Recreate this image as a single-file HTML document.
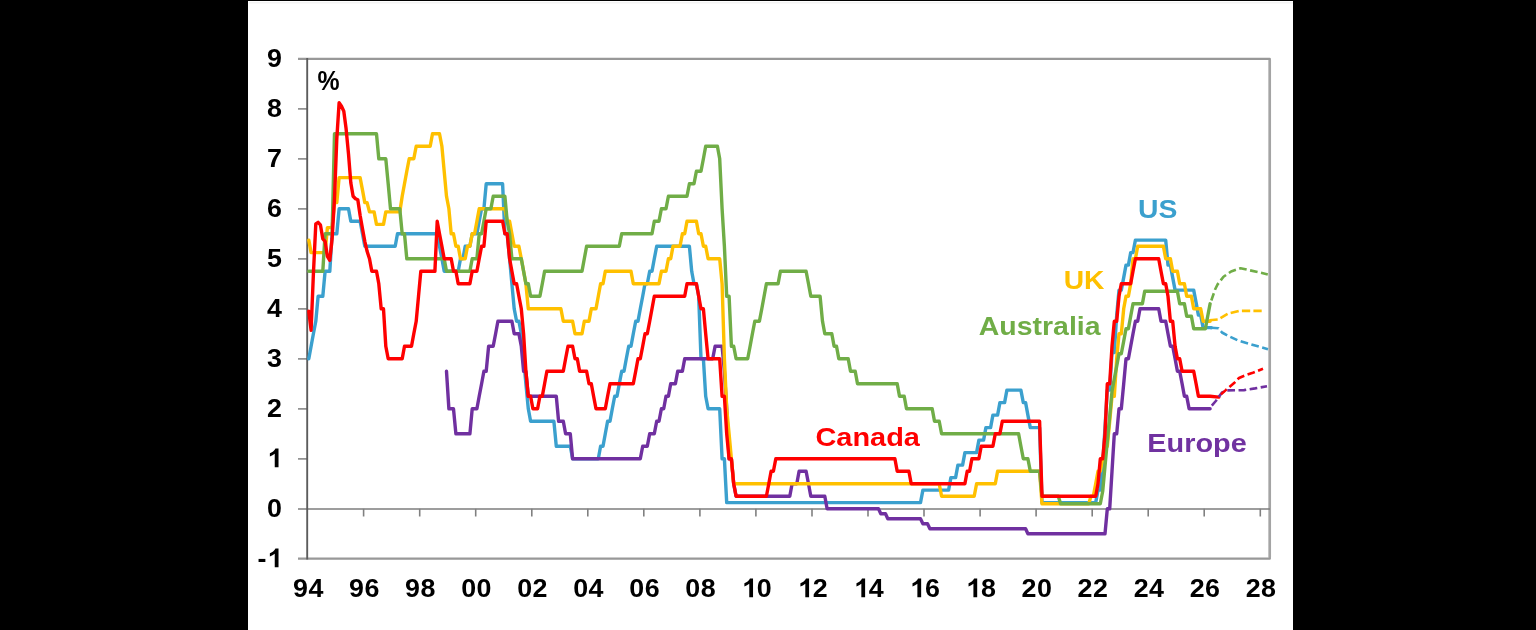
<!DOCTYPE html>
<html><head><meta charset="utf-8"><title>Policy rates</title>
<style>
html,body{margin:0;padding:0;background:#000;}
body{width:1536px;height:630px;overflow:hidden;position:relative;font-family:"Liberation Sans",sans-serif;}
</style></head><body>
<svg width="1536" height="630" viewBox="0 0 1536 630" style="position:absolute;left:0;top:0">
<rect x="0" y="0" width="1536" height="630" fill="#000"/>
<rect x="248" y="1" width="1045" height="629" fill="#fff"/>
<rect x="249" y="2" width="1044" height="1.5" fill="#f3f3f3"/>
<defs><filter id="soft" x="-2%" y="-2%" width="104%" height="104%"><feGaussianBlur stdDeviation="0.45"/></filter></defs>
<g fill="none">
<path d="M298,58.9 H1269.8 V558.7 H298" stroke="#989898" stroke-width="2.2" stroke-linejoin="round"/>
<path d="M1269.8,60 V557.6" stroke="#a4a4a4" stroke-width="2.5"/>
<path d="M298,509.0 H1269.9" stroke="#7c7c7c" stroke-width="1.3"/>
<path d="M298,458.9 H307.6" stroke="#808080" stroke-width="1.5"/>
<path d="M298,408.9 H307.6" stroke="#808080" stroke-width="1.5"/>
<path d="M298,358.9 H307.6" stroke="#808080" stroke-width="1.5"/>
<path d="M298,308.9 H307.6" stroke="#808080" stroke-width="1.5"/>
<path d="M298,258.9 H307.6" stroke="#808080" stroke-width="1.5"/>
<path d="M298,208.9 H307.6" stroke="#808080" stroke-width="1.5"/>
<path d="M298,158.9 H307.6" stroke="#808080" stroke-width="1.5"/>
<path d="M298,108.9 H307.6" stroke="#808080" stroke-width="1.5"/>
<path d="M363.6,508.8 V516.5" stroke="#808080" stroke-width="1.6"/>
<path d="M419.7,508.8 V516.5" stroke="#808080" stroke-width="1.6"/>
<path d="M475.7,508.8 V516.5" stroke="#808080" stroke-width="1.6"/>
<path d="M531.8,508.8 V516.5" stroke="#808080" stroke-width="1.6"/>
<path d="M587.8,508.8 V516.5" stroke="#808080" stroke-width="1.6"/>
<path d="M643.8,508.8 V516.5" stroke="#808080" stroke-width="1.6"/>
<path d="M699.9,508.8 V516.5" stroke="#808080" stroke-width="1.6"/>
<path d="M755.9,508.8 V516.5" stroke="#808080" stroke-width="1.6"/>
<path d="M812.0,508.8 V516.5" stroke="#808080" stroke-width="1.6"/>
<path d="M868.0,508.8 V516.5" stroke="#808080" stroke-width="1.6"/>
<path d="M924.0,508.8 V516.5" stroke="#808080" stroke-width="1.6"/>
<path d="M980.1,508.8 V516.5" stroke="#808080" stroke-width="1.6"/>
<path d="M1036.1,508.8 V516.5" stroke="#808080" stroke-width="1.6"/>
<path d="M1092.2,508.8 V516.5" stroke="#808080" stroke-width="1.6"/>
<path d="M1148.2,508.8 V516.5" stroke="#808080" stroke-width="1.6"/>
<path d="M1204.2,508.8 V516.5" stroke="#808080" stroke-width="1.6"/>
<path d="M1260.3,508.8 V516.5" stroke="#808080" stroke-width="1.6"/>
<path d="M307.2,58 V559.6" stroke="#5c5c5c" stroke-width="1.9"/>
</g>
<polyline points="308.8,358.8 311.1,346.3 313.4,333.8 315.8,321.3 318.1,296.3 320.4,296.3 322.8,296.3 325.1,271.3 327.4,271.3 329.8,271.3 332.1,233.8 334.5,233.8 336.8,233.8 339.1,208.8 341.5,208.8 343.8,208.8 346.1,208.8 348.5,208.8 350.8,221.3 353.1,221.3 355.5,221.3 357.8,221.3 360.1,221.3 362.5,233.8 364.8,246.3 367.1,246.3 369.5,246.3 371.8,246.3 374.1,246.3 376.5,246.3 378.8,246.3 381.2,246.3 383.5,246.3 385.8,246.3 388.2,246.3 390.5,246.3 392.8,246.3 395.2,246.3 397.5,233.8 399.8,233.8 402.2,233.8 404.5,233.8 406.8,233.8 409.2,233.8 411.5,233.8 413.8,233.8 416.2,233.8 418.5,233.8 420.8,233.8 423.2,233.8 425.5,233.8 427.9,233.8 430.2,233.8 432.5,233.8 434.9,233.8 437.2,233.8 439.5,246.3 441.9,258.8 444.2,271.3 446.5,271.3 448.9,271.3 451.2,271.3 453.5,271.3 455.9,271.3 458.2,271.3 460.5,258.8 462.9,258.8 465.2,246.3 467.5,246.3 469.9,246.3 472.2,233.8 474.6,233.8 476.9,233.8 479.2,221.3 481.6,208.8 483.9,208.8 486.2,183.8 488.6,183.8 490.9,183.8 493.2,183.8 495.6,183.8 497.9,183.8 500.2,183.8 502.6,183.8 504.9,233.8 507.2,233.8 509.6,258.8 511.9,283.8 514.2,308.8 516.6,321.3 518.9,321.3 521.3,333.8 523.6,358.8 525.9,383.8 528.3,408.8 530.6,421.3 532.9,421.3 535.3,421.3 537.6,421.3 539.9,421.3 542.3,421.3 544.6,421.3 546.9,421.3 549.3,421.3 551.6,421.3 553.9,421.3 556.3,446.3 558.6,446.3 560.9,446.3 563.3,446.3 565.6,446.3 568.0,446.3 570.3,446.3 572.6,458.8 575.0,458.8 577.3,458.8 579.6,458.8 582.0,458.8 584.3,458.8 586.6,458.8 589.0,458.8 591.3,458.8 593.6,458.8 596.0,458.8 598.3,458.8 600.6,446.3 603.0,446.3 605.3,433.8 607.6,421.3 610.0,421.3 612.3,408.8 614.7,396.3 617.0,396.3 619.3,383.8 621.7,371.3 624.0,371.3 626.3,358.8 628.7,346.3 631.0,346.3 633.3,333.8 635.7,321.3 638.0,321.3 640.3,308.8 642.7,296.3 645.0,283.8 647.3,283.8 649.7,271.3 652.0,271.3 654.3,258.8 656.7,246.3 659.0,246.3 661.4,246.3 663.7,246.3 666.0,246.3 668.4,246.3 670.7,246.3 673.0,246.3 675.4,246.3 677.7,246.3 680.0,246.3 682.4,246.3 684.7,246.3 687.0,246.3 689.4,246.3 691.7,271.3 694.0,283.8 696.4,283.8 698.7,296.3 701.0,358.8 703.4,358.8 705.7,396.3 708.1,408.8 710.4,408.8 712.7,408.8 715.1,408.8 717.4,408.8 719.7,408.8 722.1,458.8 724.4,458.8 726.7,502.6 729.1,502.6 731.4,502.6 733.7,502.6 736.1,502.6 738.4,502.6 740.7,502.6 743.1,502.6 745.4,502.6 747.7,502.6 750.1,502.6 752.4,502.6 754.8,502.6 757.1,502.6 759.4,502.6 761.8,502.6 764.1,502.6 766.4,502.6 768.8,502.6 771.1,502.6 773.4,502.6 775.8,502.6 778.1,502.6 780.4,502.6 782.8,502.6 785.1,502.6 787.4,502.6 789.8,502.6 792.1,502.6 794.4,502.6 796.8,502.6 799.1,502.6 801.5,502.6 803.8,502.6 806.1,502.6 808.5,502.6 810.8,502.6 813.1,502.6 815.5,502.6 817.8,502.6 820.1,502.6 822.5,502.6 824.8,502.6 827.1,502.6 829.5,502.6 831.8,502.6 834.1,502.6 836.5,502.6 838.8,502.6 841.1,502.6 843.5,502.6 845.8,502.6 848.2,502.6 850.5,502.6 852.8,502.6 855.2,502.6 857.5,502.6 859.8,502.6 862.2,502.6 864.5,502.6 866.8,502.6 869.2,502.6 871.5,502.6 873.8,502.6 876.2,502.6 878.5,502.6 880.8,502.6 883.2,502.6 885.5,502.6 887.8,502.6 890.2,502.6 892.5,502.6 894.9,502.6 897.2,502.6 899.5,502.6 901.9,502.6 904.2,502.6 906.5,502.6 908.9,502.6 911.2,502.6 913.5,502.6 915.9,502.6 918.2,502.6 920.5,502.6 922.9,490.1 925.2,490.1 927.5,490.1 929.9,490.1 932.2,490.1 934.5,490.1 936.9,490.1 939.2,490.1 941.6,490.1 943.9,490.1 946.2,490.1 948.6,490.1 950.9,477.6 953.2,477.6 955.6,477.6 957.9,465.1 960.2,465.1 962.6,465.1 964.9,452.6 967.2,452.6 969.6,452.6 971.9,452.6 974.2,452.6 976.6,452.6 978.9,440.1 981.2,440.1 983.6,440.1 985.9,427.6 988.3,427.6 990.6,427.6 992.9,415.1 995.3,415.1 997.6,415.1 999.9,402.6 1002.3,402.6 1004.6,402.6 1006.9,390.1 1009.3,390.1 1011.6,390.1 1013.9,390.1 1016.3,390.1 1018.6,390.1 1020.9,390.1 1023.3,402.6 1025.6,402.6 1027.9,415.1 1030.3,427.6 1032.6,427.6 1035.0,427.6 1037.3,427.6 1039.6,427.6 1042.0,502.6 1044.3,502.6 1046.6,502.6 1049.0,502.6 1051.3,502.6 1053.6,502.6 1056.0,502.6 1058.3,502.6 1060.6,502.6 1063.0,502.6 1065.3,502.6 1067.6,502.6 1070.0,502.6 1072.3,502.6 1074.6,502.6 1077.0,502.6 1079.3,502.6 1081.7,502.6 1084.0,502.6 1086.3,502.6 1088.7,502.6 1091.0,502.6 1093.3,502.6 1095.7,502.6 1098.0,490.1 1100.3,490.1 1102.7,465.1 1105.0,427.6 1107.3,390.1 1109.7,390.1 1112.0,352.6 1114.3,352.6 1116.7,315.1 1119.0,290.1 1121.3,290.1 1123.7,277.6 1126.0,265.1 1128.4,265.1 1130.7,252.6 1133.0,252.6 1135.4,240.1 1137.7,240.1 1140.0,240.1 1142.4,240.1 1144.7,240.1 1147.0,240.1 1149.4,240.1 1151.7,240.1 1154.0,240.1 1156.4,240.1 1158.7,240.1 1161.0,240.1 1163.4,240.1 1165.7,240.1 1168.0,265.1 1170.4,265.1 1172.7,277.6 1175.1,290.1 1177.4,290.1 1179.7,290.1 1182.1,290.1 1184.4,290.1 1186.7,290.1 1189.1,290.1 1191.4,290.1 1193.7,290.1 1196.1,302.6 1198.4,315.1 1200.7,315.1 1203.1,327.6 1205.4,327.6 1207.7,327.6 1210.1,327.6 1211.3,327.7" fill="none" stroke="#3BA0CE" stroke-width="3.4" stroke-linejoin="round" stroke-linecap="round"/>
<polyline points="446.5,371.3 448.9,408.8 451.2,408.8 453.5,408.8 455.9,433.8 458.2,433.8 460.5,433.8 462.9,433.8 465.2,433.8 467.5,433.8 469.9,433.8 472.2,408.8 474.6,408.8 476.9,408.8 479.2,396.3 481.6,383.8 483.9,371.3 486.2,371.3 488.6,346.3 490.9,346.3 493.2,346.3 495.6,333.8 497.9,321.3 500.2,321.3 502.6,321.3 504.9,321.3 507.2,321.3 509.6,321.3 511.9,321.3 514.2,333.8 516.6,333.8 518.9,333.8 521.3,346.3 523.6,371.3 525.9,371.3 528.3,396.3 530.6,396.3 532.9,396.3 535.3,396.3 537.6,396.3 539.9,396.3 542.3,396.3 544.6,396.3 546.9,396.3 549.3,396.3 551.6,396.3 553.9,396.3 556.3,396.3 558.6,421.3 560.9,421.3 563.3,421.3 565.6,433.8 568.0,433.8 570.3,433.8 572.6,458.8 575.0,458.8 577.3,458.8 579.6,458.8 582.0,458.8 584.3,458.8 586.6,458.8 589.0,458.8 591.3,458.8 593.6,458.8 596.0,458.8 598.3,458.8 600.6,458.8 603.0,458.8 605.3,458.8 607.6,458.8 610.0,458.8 612.3,458.8 614.7,458.8 617.0,458.8 619.3,458.8 621.7,458.8 624.0,458.8 626.3,458.8 628.7,458.8 631.0,458.8 633.3,458.8 635.7,458.8 638.0,458.8 640.3,458.8 642.7,446.3 645.0,446.3 647.3,446.3 649.7,433.8 652.0,433.8 654.3,433.8 656.7,421.3 659.0,421.3 661.4,408.8 663.7,408.8 666.0,396.3 668.4,396.3 670.7,383.8 673.0,383.8 675.4,383.8 677.7,371.3 680.0,371.3 682.4,371.3 684.7,358.8 687.0,358.8 689.4,358.8 691.7,358.8 694.0,358.8 696.4,358.8 698.7,358.8 701.0,358.8 703.4,358.8 705.7,358.8 708.1,358.8 710.4,358.8 712.7,358.8 715.1,346.3 717.4,346.3 719.7,346.3 722.1,346.3 724.4,371.3 726.7,408.8 729.1,458.8 731.4,458.8 733.7,483.8 736.1,496.3 738.4,496.3 740.7,496.3 743.1,496.3 745.4,496.3 747.7,496.3 750.1,496.3 752.4,496.3 754.8,496.3 757.1,496.3 759.4,496.3 761.8,496.3 764.1,496.3 766.4,496.3 768.8,496.3 771.1,496.3 773.4,496.3 775.8,496.3 778.1,496.3 780.4,496.3 782.8,496.3 785.1,496.3 787.4,496.3 789.8,496.3 792.1,483.8 794.4,483.8 796.8,483.8 799.1,471.3 801.5,471.3 803.8,471.3 806.1,471.3 808.5,483.8 810.8,496.3 813.1,496.3 815.5,496.3 817.8,496.3 820.1,496.3 822.5,496.3 824.8,496.3 827.1,508.8 829.5,508.8 831.8,508.8 834.1,508.8 836.5,508.8 838.8,508.8 841.1,508.8 843.5,508.8 845.8,508.8 848.2,508.8 850.5,508.8 852.8,508.8 855.2,508.8 857.5,508.8 859.8,508.8 862.2,508.8 864.5,508.8 866.8,508.8 869.2,508.8 871.5,508.8 873.8,508.8 876.2,508.8 878.5,508.8 880.8,513.8 883.2,513.8 885.5,513.8 887.8,518.8 890.2,518.8 892.5,518.8 894.9,518.8 897.2,518.8 899.5,518.8 901.9,518.8 904.2,518.8 906.5,518.8 908.9,518.8 911.2,518.8 913.5,518.8 915.9,518.8 918.2,518.8 920.5,518.8 922.9,523.8 925.2,523.8 927.5,523.8 929.9,528.8 932.2,528.8 934.5,528.8 936.9,528.8 939.2,528.8 941.6,528.8 943.9,528.8 946.2,528.8 948.6,528.8 950.9,528.8 953.2,528.8 955.6,528.8 957.9,528.8 960.2,528.8 962.6,528.8 964.9,528.8 967.2,528.8 969.6,528.8 971.9,528.8 974.2,528.8 976.6,528.8 978.9,528.8 981.2,528.8 983.6,528.8 985.9,528.8 988.3,528.8 990.6,528.8 992.9,528.8 995.3,528.8 997.6,528.8 999.9,528.8 1002.3,528.8 1004.6,528.8 1006.9,528.8 1009.3,528.8 1011.6,528.8 1013.9,528.8 1016.3,528.8 1018.6,528.8 1020.9,528.8 1023.3,528.8 1025.6,528.8 1027.9,533.8 1030.3,533.8 1032.6,533.8 1035.0,533.8 1037.3,533.8 1039.6,533.8 1042.0,533.8 1044.3,533.8 1046.6,533.8 1049.0,533.8 1051.3,533.8 1053.6,533.8 1056.0,533.8 1058.3,533.8 1060.6,533.8 1063.0,533.8 1065.3,533.8 1067.6,533.8 1070.0,533.8 1072.3,533.8 1074.6,533.8 1077.0,533.8 1079.3,533.8 1081.7,533.8 1084.0,533.8 1086.3,533.8 1088.7,533.8 1091.0,533.8 1093.3,533.8 1095.7,533.8 1098.0,533.8 1100.3,533.8 1102.7,533.8 1105.0,533.8 1107.3,508.8 1109.7,508.8 1112.0,471.3 1114.3,433.8 1116.7,433.8 1119.0,408.8 1121.3,408.8 1123.7,383.8 1126.0,358.8 1128.4,358.8 1130.7,346.3 1133.0,333.8 1135.4,321.3 1137.7,321.3 1140.0,308.8 1142.4,308.8 1144.7,308.8 1147.0,308.8 1149.4,308.8 1151.7,308.8 1154.0,308.8 1156.4,308.8 1158.7,308.8 1161.0,321.3 1163.4,321.3 1165.7,321.3 1168.0,333.8 1170.4,346.3 1172.7,346.3 1175.1,358.8 1177.4,371.3 1179.7,371.3 1182.1,383.8 1184.4,396.3 1186.7,396.3 1189.1,408.8 1191.4,408.8 1193.7,408.8 1196.1,408.8 1198.4,408.8 1200.7,408.8 1203.1,408.8 1205.4,408.8 1207.7,408.8 1210.1,408.8" fill="none" stroke="#7030A0" stroke-width="3.4" stroke-linejoin="round" stroke-linecap="round"/>
<polyline points="308.8,240.1 311.1,252.6 313.4,252.6 315.8,252.6 318.1,252.6 320.4,252.6 322.8,252.6 325.1,252.6 327.4,227.6 329.8,227.6 332.1,227.6 334.5,202.6 336.8,202.6 339.1,177.6 341.5,177.6 343.8,177.6 346.1,177.6 348.5,177.6 350.8,177.6 353.1,177.6 355.5,177.6 357.8,177.6 360.1,177.6 362.5,190.1 364.8,202.6 367.1,202.6 369.5,211.9 371.8,211.9 374.1,211.9 376.5,224.4 378.8,224.4 381.2,224.4 383.5,224.4 385.8,211.9 388.2,211.9 390.5,211.9 392.8,211.9 395.2,211.9 397.5,211.9 399.8,211.9 402.2,196.3 404.5,183.8 406.8,171.3 409.2,158.8 411.5,158.8 413.8,158.8 416.2,146.3 418.5,146.3 420.8,146.3 423.2,146.3 425.5,146.3 427.9,146.3 430.2,146.3 432.5,133.8 434.9,133.8 437.2,133.8 439.5,133.8 441.9,146.3 444.2,171.3 446.5,196.3 448.9,208.8 451.2,233.8 453.5,233.8 455.9,246.3 458.2,246.3 460.5,258.8 462.9,258.8 465.2,258.8 467.5,246.3 469.9,246.3 472.2,233.8 474.6,233.8 476.9,221.3 479.2,208.8 481.6,208.8 483.9,208.8 486.2,208.8 488.6,208.8 490.9,208.8 493.2,208.8 495.6,208.8 497.9,208.8 500.2,208.8 502.6,208.8 504.9,208.8 507.2,221.3 509.6,221.3 511.9,233.8 514.2,246.3 516.6,246.3 518.9,246.3 521.3,258.8 523.6,271.3 525.9,283.8 528.3,308.8 530.6,308.8 532.9,308.8 535.3,308.8 537.6,308.8 539.9,308.8 542.3,308.8 544.6,308.8 546.9,308.8 549.3,308.8 551.6,308.8 553.9,308.8 556.3,308.8 558.6,308.8 560.9,308.8 563.3,321.3 565.6,321.3 568.0,321.3 570.3,321.3 572.6,321.3 575.0,333.8 577.3,333.8 579.6,333.8 582.0,333.8 584.3,321.3 586.6,321.3 589.0,321.3 591.3,308.8 593.6,308.8 596.0,308.8 598.3,296.3 600.6,283.8 603.0,283.8 605.3,271.3 607.6,271.3 610.0,271.3 612.3,271.3 614.7,271.3 617.0,271.3 619.3,271.3 621.7,271.3 624.0,271.3 626.3,271.3 628.7,271.3 631.0,271.3 633.3,283.8 635.7,283.8 638.0,283.8 640.3,283.8 642.7,283.8 645.0,283.8 647.3,283.8 649.7,283.8 652.0,283.8 654.3,283.8 656.7,283.8 659.0,283.8 661.4,271.3 663.7,271.3 666.0,271.3 668.4,258.8 670.7,258.8 673.0,246.3 675.4,246.3 677.7,246.3 680.0,246.3 682.4,233.8 684.7,233.8 687.0,221.3 689.4,221.3 691.7,221.3 694.0,221.3 696.4,221.3 698.7,233.8 701.0,233.8 703.4,246.3 705.7,246.3 708.1,258.8 710.4,258.8 712.7,258.8 715.1,258.8 717.4,258.8 719.7,258.8 722.1,283.8 724.4,358.8 726.7,408.8 729.1,433.8 731.4,458.8 733.7,483.8 736.1,483.8 738.4,483.8 740.7,483.8 743.1,483.8 745.4,483.8 747.7,483.8 750.1,483.8 752.4,483.8 754.8,483.8 757.1,483.8 759.4,483.8 761.8,483.8 764.1,483.8 766.4,483.8 768.8,483.8 771.1,483.8 773.4,483.8 775.8,483.8 778.1,483.8 780.4,483.8 782.8,483.8 785.1,483.8 787.4,483.8 789.8,483.8 792.1,483.8 794.4,483.8 796.8,483.8 799.1,483.8 801.5,483.8 803.8,483.8 806.1,483.8 808.5,483.8 810.8,483.8 813.1,483.8 815.5,483.8 817.8,483.8 820.1,483.8 822.5,483.8 824.8,483.8 827.1,483.8 829.5,483.8 831.8,483.8 834.1,483.8 836.5,483.8 838.8,483.8 841.1,483.8 843.5,483.8 845.8,483.8 848.2,483.8 850.5,483.8 852.8,483.8 855.2,483.8 857.5,483.8 859.8,483.8 862.2,483.8 864.5,483.8 866.8,483.8 869.2,483.8 871.5,483.8 873.8,483.8 876.2,483.8 878.5,483.8 880.8,483.8 883.2,483.8 885.5,483.8 887.8,483.8 890.2,483.8 892.5,483.8 894.9,483.8 897.2,483.8 899.5,483.8 901.9,483.8 904.2,483.8 906.5,483.8 908.9,483.8 911.2,483.8 913.5,483.8 915.9,483.8 918.2,483.8 920.5,483.8 922.9,483.8 925.2,483.8 927.5,483.8 929.9,483.8 932.2,483.8 934.5,483.8 936.9,483.8 939.2,483.8 941.6,496.3 943.9,496.3 946.2,496.3 948.6,496.3 950.9,496.3 953.2,496.3 955.6,496.3 957.9,496.3 960.2,496.3 962.6,496.3 964.9,496.3 967.2,496.3 969.6,496.3 971.9,496.3 974.2,496.3 976.6,483.8 978.9,483.8 981.2,483.8 983.6,483.8 985.9,483.8 988.3,483.8 990.6,483.8 992.9,483.8 995.3,483.8 997.6,471.3 999.9,471.3 1002.3,471.3 1004.6,471.3 1006.9,471.3 1009.3,471.3 1011.6,471.3 1013.9,471.3 1016.3,471.3 1018.6,471.3 1020.9,471.3 1023.3,471.3 1025.6,471.3 1027.9,471.3 1030.3,471.3 1032.6,471.3 1035.0,471.3 1037.3,471.3 1039.6,471.3 1042.0,503.8 1044.3,503.8 1046.6,503.8 1049.0,503.8 1051.3,503.8 1053.6,503.8 1056.0,503.8 1058.3,503.8 1060.6,503.8 1063.0,503.8 1065.3,503.8 1067.6,503.8 1070.0,503.8 1072.3,503.8 1074.6,503.8 1077.0,503.8 1079.3,503.8 1081.7,503.8 1084.0,503.8 1086.3,503.8 1088.7,503.8 1091.0,496.3 1093.3,496.3 1095.7,483.8 1098.0,471.3 1100.3,471.3 1102.7,458.8 1105.0,446.3 1107.3,446.3 1109.7,421.3 1112.0,396.3 1114.3,396.3 1116.7,358.8 1119.0,333.8 1121.3,333.8 1123.7,308.8 1126.0,296.3 1128.4,296.3 1130.7,283.8 1133.0,258.8 1135.4,258.8 1137.7,246.3 1140.0,246.3 1142.4,246.3 1144.7,246.3 1147.0,246.3 1149.4,246.3 1151.7,246.3 1154.0,246.3 1156.4,246.3 1158.7,246.3 1161.0,246.3 1163.4,246.3 1165.7,258.8 1168.0,258.8 1170.4,258.8 1172.7,271.3 1175.1,271.3 1177.4,271.3 1179.7,283.8 1182.1,283.8 1184.4,283.8 1186.7,296.3 1189.1,296.3 1191.4,296.3 1193.7,308.8 1196.1,308.8 1198.4,308.8 1200.7,308.8 1203.1,321.3 1205.4,321.3 1207.7,321.3 1210.1,321.3" fill="none" stroke="#FFC000" stroke-width="3.4" stroke-linejoin="round" stroke-linecap="round"/>
<polyline points="308.8,271.3 311.1,271.3 313.4,271.3 315.8,271.3 318.1,271.3 320.4,271.3 322.8,271.3 325.1,233.8 327.4,233.8 329.8,233.8 332.1,233.8 334.5,133.8 336.8,133.8 339.1,133.8 341.5,133.8 343.8,133.8 346.1,133.8 348.5,133.8 350.8,133.8 353.1,133.8 355.5,133.8 357.8,133.8 360.1,133.8 362.5,133.8 364.8,133.8 367.1,133.8 369.5,133.8 371.8,133.8 374.1,133.8 376.5,133.8 378.8,158.8 381.2,158.8 383.5,158.8 385.8,158.8 388.2,183.8 390.5,208.8 392.8,208.8 395.2,208.8 397.5,208.8 399.8,208.8 402.2,233.8 404.5,233.8 406.8,258.8 409.2,258.8 411.5,258.8 413.8,258.8 416.2,258.8 418.5,258.8 420.8,258.8 423.2,258.8 425.5,258.8 427.9,258.8 430.2,258.8 432.5,258.8 434.9,258.8 437.2,258.8 439.5,258.8 441.9,258.8 444.2,258.8 446.5,271.3 448.9,271.3 451.2,271.3 453.5,271.3 455.9,271.3 458.2,271.3 460.5,271.3 462.9,271.3 465.2,271.3 467.5,271.3 469.9,271.3 472.2,258.8 474.6,258.8 476.9,258.8 479.2,233.8 481.6,233.8 483.9,221.3 486.2,208.8 488.6,208.8 490.9,208.8 493.2,196.3 495.6,196.3 497.9,196.3 500.2,196.3 502.6,196.3 504.9,196.3 507.2,221.3 509.6,233.8 511.9,258.8 514.2,258.8 516.6,258.8 518.9,258.8 521.3,258.8 523.6,271.3 525.9,283.8 528.3,283.8 530.6,296.3 532.9,296.3 535.3,296.3 537.6,296.3 539.9,296.3 542.3,283.8 544.6,271.3 546.9,271.3 549.3,271.3 551.6,271.3 553.9,271.3 556.3,271.3 558.6,271.3 560.9,271.3 563.3,271.3 565.6,271.3 568.0,271.3 570.3,271.3 572.6,271.3 575.0,271.3 577.3,271.3 579.6,271.3 582.0,271.3 584.3,258.8 586.6,246.3 589.0,246.3 591.3,246.3 593.6,246.3 596.0,246.3 598.3,246.3 600.6,246.3 603.0,246.3 605.3,246.3 607.6,246.3 610.0,246.3 612.3,246.3 614.7,246.3 617.0,246.3 619.3,246.3 621.7,233.8 624.0,233.8 626.3,233.8 628.7,233.8 631.0,233.8 633.3,233.8 635.7,233.8 638.0,233.8 640.3,233.8 642.7,233.8 645.0,233.8 647.3,233.8 649.7,233.8 652.0,233.8 654.3,221.3 656.7,221.3 659.0,221.3 661.4,208.8 663.7,208.8 666.0,208.8 668.4,196.3 670.7,196.3 673.0,196.3 675.4,196.3 677.7,196.3 680.0,196.3 682.4,196.3 684.7,196.3 687.0,196.3 689.4,183.8 691.7,183.8 694.0,183.8 696.4,171.3 698.7,171.3 701.0,171.3 703.4,158.8 705.7,146.3 708.1,146.3 710.4,146.3 712.7,146.3 715.1,146.3 717.4,146.3 719.7,158.8 722.1,208.8 724.4,246.3 726.7,296.3 729.1,296.3 731.4,346.3 733.7,346.3 736.1,358.8 738.4,358.8 740.7,358.8 743.1,358.8 745.4,358.8 747.7,358.8 750.1,346.3 752.4,333.8 754.8,321.3 757.1,321.3 759.4,321.3 761.8,308.8 764.1,296.3 766.4,283.8 768.8,283.8 771.1,283.8 773.4,283.8 775.8,283.8 778.1,283.8 780.4,271.3 782.8,271.3 785.1,271.3 787.4,271.3 789.8,271.3 792.1,271.3 794.4,271.3 796.8,271.3 799.1,271.3 801.5,271.3 803.8,271.3 806.1,271.3 808.5,283.8 810.8,296.3 813.1,296.3 815.5,296.3 817.8,296.3 820.1,296.3 822.5,321.3 824.8,333.8 827.1,333.8 829.5,333.8 831.8,333.8 834.1,346.3 836.5,346.3 838.8,358.8 841.1,358.8 843.5,358.8 845.8,358.8 848.2,358.8 850.5,371.3 852.8,371.3 855.2,371.3 857.5,383.8 859.8,383.8 862.2,383.8 864.5,383.8 866.8,383.8 869.2,383.8 871.5,383.8 873.8,383.8 876.2,383.8 878.5,383.8 880.8,383.8 883.2,383.8 885.5,383.8 887.8,383.8 890.2,383.8 892.5,383.8 894.9,383.8 897.2,383.8 899.5,396.3 901.9,396.3 904.2,396.3 906.5,408.8 908.9,408.8 911.2,408.8 913.5,408.8 915.9,408.8 918.2,408.8 920.5,408.8 922.9,408.8 925.2,408.8 927.5,408.8 929.9,408.8 932.2,408.8 934.5,421.3 936.9,421.3 939.2,421.3 941.6,433.8 943.9,433.8 946.2,433.8 948.6,433.8 950.9,433.8 953.2,433.8 955.6,433.8 957.9,433.8 960.2,433.8 962.6,433.8 964.9,433.8 967.2,433.8 969.6,433.8 971.9,433.8 974.2,433.8 976.6,433.8 978.9,433.8 981.2,433.8 983.6,433.8 985.9,433.8 988.3,433.8 990.6,433.8 992.9,433.8 995.3,433.8 997.6,433.8 999.9,433.8 1002.3,433.8 1004.6,433.8 1006.9,433.8 1009.3,433.8 1011.6,433.8 1013.9,433.8 1016.3,433.8 1018.6,433.8 1020.9,446.3 1023.3,458.8 1025.6,458.8 1027.9,458.8 1030.3,471.3 1032.6,471.3 1035.0,471.3 1037.3,471.3 1039.6,471.3 1042.0,496.3 1044.3,496.3 1046.6,496.3 1049.0,496.3 1051.3,496.3 1053.6,496.3 1056.0,496.3 1058.3,496.3 1060.6,503.8 1063.0,503.8 1065.3,503.8 1067.6,503.8 1070.0,503.8 1072.3,503.8 1074.6,503.8 1077.0,503.8 1079.3,503.8 1081.7,503.8 1084.0,503.8 1086.3,503.8 1088.7,503.8 1091.0,503.8 1093.3,503.8 1095.7,503.8 1098.0,503.8 1100.3,503.8 1102.7,491.3 1105.0,466.3 1107.3,441.3 1109.7,416.3 1112.0,391.3 1114.3,378.8 1116.7,366.3 1119.0,353.8 1121.3,353.8 1123.7,341.3 1126.0,328.8 1128.4,328.8 1130.7,316.3 1133.0,303.8 1135.4,303.8 1137.7,303.8 1140.0,303.8 1142.4,303.8 1144.7,291.3 1147.0,291.3 1149.4,291.3 1151.7,291.3 1154.0,291.3 1156.4,291.3 1158.7,291.3 1161.0,291.3 1163.4,291.3 1165.7,291.3 1168.0,291.3 1170.4,291.3 1172.7,291.3 1175.1,291.3 1177.4,291.3 1179.7,303.8 1182.1,303.8 1184.4,303.8 1186.7,316.3 1189.1,316.3 1191.4,316.3 1193.7,328.8 1196.1,328.8 1198.4,328.8 1200.7,328.8 1203.1,328.8 1205.4,328.8 1207.7,316.3 1210.1,303.8" fill="none" stroke="#70AD47" stroke-width="3.4" stroke-linejoin="round" stroke-linecap="round"/>
<polyline points="308.8,311.3 311.1,330.3 313.4,273.8 315.8,223.8 318.1,222.3 320.4,224.8 322.8,238.8 325.1,241.3 327.4,256.3 329.8,260.3 332.1,238.8 334.5,198.8 336.8,138.8 339.1,102.8 341.5,106.3 343.8,111.3 346.1,128.8 348.5,153.8 350.8,182.8 353.1,196.3 355.5,198.8 357.8,199.8 360.1,215.3 362.5,228.8 364.8,241.3 367.1,251.3 369.5,258.8 371.8,271.3 374.1,271.3 376.5,271.3 378.8,283.8 381.2,308.8 383.5,308.8 385.8,346.3 388.2,358.8 390.5,358.8 392.8,358.8 395.2,358.8 397.5,358.8 399.8,358.8 402.2,358.8 404.5,346.3 406.8,346.3 409.2,346.3 411.5,346.3 413.8,333.8 416.2,321.3 418.5,296.3 420.8,271.3 423.2,271.3 425.5,271.3 427.9,271.3 430.2,271.3 432.5,271.3 434.9,271.3 437.2,221.3 439.5,233.8 441.9,246.3 444.2,258.8 446.5,258.8 448.9,258.8 451.2,258.8 453.5,271.3 455.9,271.3 458.2,283.8 460.5,283.8 462.9,283.8 465.2,283.8 467.5,283.8 469.9,283.8 472.2,271.3 474.6,271.3 476.9,271.3 479.2,258.8 481.6,246.3 483.9,246.3 486.2,221.3 488.6,221.3 490.9,221.3 493.2,221.3 495.6,221.3 497.9,221.3 500.2,221.3 502.6,221.3 504.9,233.8 507.2,233.8 509.6,258.8 511.9,271.3 514.2,283.8 516.6,283.8 518.9,296.3 521.3,308.8 523.6,333.8 525.9,371.3 528.3,396.3 530.6,396.3 532.9,408.8 535.3,408.8 537.6,408.8 539.9,396.3 542.3,396.3 544.6,383.8 546.9,371.3 549.3,371.3 551.6,371.3 553.9,371.3 556.3,371.3 558.6,371.3 560.9,371.3 563.3,371.3 565.6,358.8 568.0,346.3 570.3,346.3 572.6,346.3 575.0,358.8 577.3,358.8 579.6,371.3 582.0,371.3 584.3,371.3 586.6,371.3 589.0,383.8 591.3,383.8 593.6,396.3 596.0,408.8 598.3,408.8 600.6,408.8 603.0,408.8 605.3,408.8 607.6,396.3 610.0,383.8 612.3,383.8 614.7,383.8 617.0,383.8 619.3,383.8 621.7,383.8 624.0,383.8 626.3,383.8 628.7,383.8 631.0,383.8 633.3,383.8 635.7,371.3 638.0,358.8 640.3,358.8 642.7,346.3 645.0,333.8 647.3,333.8 649.7,321.3 652.0,308.8 654.3,296.3 656.7,296.3 659.0,296.3 661.4,296.3 663.7,296.3 666.0,296.3 668.4,296.3 670.7,296.3 673.0,296.3 675.4,296.3 677.7,296.3 680.0,296.3 682.4,296.3 684.7,296.3 687.0,283.8 689.4,283.8 691.7,283.8 694.0,283.8 696.4,283.8 698.7,296.3 701.0,308.8 703.4,308.8 705.7,333.8 708.1,358.8 710.4,358.8 712.7,358.8 715.1,358.8 717.4,358.8 719.7,358.8 722.1,396.3 724.4,396.3 726.7,433.8 729.1,458.8 731.4,458.8 733.7,483.8 736.1,496.3 738.4,496.3 740.7,496.3 743.1,496.3 745.4,496.3 747.7,496.3 750.1,496.3 752.4,496.3 754.8,496.3 757.1,496.3 759.4,496.3 761.8,496.3 764.1,496.3 766.4,496.3 768.8,483.8 771.1,471.3 773.4,471.3 775.8,458.8 778.1,458.8 780.4,458.8 782.8,458.8 785.1,458.8 787.4,458.8 789.8,458.8 792.1,458.8 794.4,458.8 796.8,458.8 799.1,458.8 801.5,458.8 803.8,458.8 806.1,458.8 808.5,458.8 810.8,458.8 813.1,458.8 815.5,458.8 817.8,458.8 820.1,458.8 822.5,458.8 824.8,458.8 827.1,458.8 829.5,458.8 831.8,458.8 834.1,458.8 836.5,458.8 838.8,458.8 841.1,458.8 843.5,458.8 845.8,458.8 848.2,458.8 850.5,458.8 852.8,458.8 855.2,458.8 857.5,458.8 859.8,458.8 862.2,458.8 864.5,458.8 866.8,458.8 869.2,458.8 871.5,458.8 873.8,458.8 876.2,458.8 878.5,458.8 880.8,458.8 883.2,458.8 885.5,458.8 887.8,458.8 890.2,458.8 892.5,458.8 894.9,458.8 897.2,471.3 899.5,471.3 901.9,471.3 904.2,471.3 906.5,471.3 908.9,471.3 911.2,483.8 913.5,483.8 915.9,483.8 918.2,483.8 920.5,483.8 922.9,483.8 925.2,483.8 927.5,483.8 929.9,483.8 932.2,483.8 934.5,483.8 936.9,483.8 939.2,483.8 941.6,483.8 943.9,483.8 946.2,483.8 948.6,483.8 950.9,483.8 953.2,483.8 955.6,483.8 957.9,483.8 960.2,483.8 962.6,483.8 964.9,483.8 967.2,471.3 969.6,471.3 971.9,458.8 974.2,458.8 976.6,458.8 978.9,458.8 981.2,446.3 983.6,446.3 985.9,446.3 988.3,446.3 990.6,446.3 992.9,446.3 995.3,433.8 997.6,433.8 999.9,433.8 1002.3,421.3 1004.6,421.3 1006.9,421.3 1009.3,421.3 1011.6,421.3 1013.9,421.3 1016.3,421.3 1018.6,421.3 1020.9,421.3 1023.3,421.3 1025.6,421.3 1027.9,421.3 1030.3,421.3 1032.6,421.3 1035.0,421.3 1037.3,421.3 1039.6,421.3 1042.0,496.3 1044.3,496.3 1046.6,496.3 1049.0,496.3 1051.3,496.3 1053.6,496.3 1056.0,496.3 1058.3,496.3 1060.6,496.3 1063.0,496.3 1065.3,496.3 1067.6,496.3 1070.0,496.3 1072.3,496.3 1074.6,496.3 1077.0,496.3 1079.3,496.3 1081.7,496.3 1084.0,496.3 1086.3,496.3 1088.7,496.3 1091.0,496.3 1093.3,496.3 1095.7,496.3 1098.0,483.8 1100.3,458.8 1102.7,458.8 1105.0,433.8 1107.3,383.8 1109.7,383.8 1112.0,346.3 1114.3,321.3 1116.7,321.3 1119.0,296.3 1121.3,283.8 1123.7,283.8 1126.0,283.8 1128.4,283.8 1130.7,283.8 1133.0,271.3 1135.4,258.8 1137.7,258.8 1140.0,258.8 1142.4,258.8 1144.7,258.8 1147.0,258.8 1149.4,258.8 1151.7,258.8 1154.0,258.8 1156.4,258.8 1158.7,258.8 1161.0,271.3 1163.4,283.8 1165.7,283.8 1168.0,296.3 1170.4,321.3 1172.7,321.3 1175.1,346.3 1177.4,358.8 1179.7,358.8 1182.1,371.3 1184.4,371.3 1186.7,371.3 1189.1,371.3 1191.4,371.3 1193.7,371.3 1196.1,383.8 1198.4,396.3 1200.7,396.3 1203.1,396.3 1205.4,396.3 1207.7,396.3 1210.1,396.3 1218.8,397.1" fill="none" stroke="#FF0000" stroke-width="3.4" stroke-linejoin="round" stroke-linecap="round"/>
<polyline points="1207.5,327.6 1218.5,328.2 1222.0,332.5 1228.0,335.8 1237.6,340.3 1248.2,343.5 1259.3,346.7 1268.0,349.2" fill="none" stroke="#3BA0CE" stroke-width="2.6" stroke-dasharray="7.7 3.5" stroke-dashoffset="7.6" stroke-linejoin="round"/>
<polyline points="1211.8,405.6 1215.8,401.0 1222.0,392.5 1226.7,390.4 1244.0,390.1 1255.0,388.4 1267.0,386.2" fill="none" stroke="#7030A0" stroke-width="2.6" stroke-dasharray="7.7 3.5" stroke-dashoffset="0.0" stroke-linejoin="round"/>
<polyline points="1209.4,320.3 1218.2,319.5 1227.6,313.8 1238.8,310.9 1250.5,310.9 1262.3,310.9" fill="none" stroke="#FFC000" stroke-width="2.6" stroke-dasharray="8.3 3.2" stroke-dashoffset="0.0" stroke-linejoin="round"/>
<polyline points="1211.3,300.5 1215.3,289.0 1217.6,284.4 1223.5,276.7 1231.1,271.5 1240.5,268.2 1267.8,274.4" fill="none" stroke="#70AD47" stroke-width="2.6" stroke-dasharray="7.7 3.5" stroke-dashoffset="0.0" stroke-linejoin="round"/>
<polyline points="1221.0,394.4 1225.8,390.1 1234.1,383.1 1239.0,378.0 1245.4,375.3 1252.0,373.1 1263.0,368.7" fill="none" stroke="#FF0000" stroke-width="2.6" stroke-dasharray="7.7 3.5" stroke-dashoffset="0.0" stroke-linejoin="round"/>
<g filter="url(#soft)">
<text transform="translate(257.6,567.3) scale(1.025,1)" text-anchor="start" fill="#000" font-size="26.2" font-weight="bold" font-family="'Liberation Sans', sans-serif">-</text><path transform="translate(267.95,567.30) scale(0.01311,-0.01243)" d="M806,0 H518 V1085 Q360,938 146,867 V1128 Q259,1165 391,1268 Q523,1371 572,1509 H806 Z" fill="#000"/>
<text transform="translate(266.9,517.3) scale(1.025,1)" text-anchor="start" fill="#000" font-size="26.2" font-weight="bold" font-family="'Liberation Sans', sans-serif">0</text>
<path transform="translate(267.95,467.30) scale(0.01311,-0.01243)" d="M806,0 H518 V1085 Q360,938 146,867 V1128 Q259,1165 391,1268 Q523,1371 572,1509 H806 Z" fill="#000"/>
<text transform="translate(266.9,417.3) scale(1.025,1)" text-anchor="start" fill="#000" font-size="26.2" font-weight="bold" font-family="'Liberation Sans', sans-serif">2</text>
<text transform="translate(266.9,367.3) scale(1.025,1)" text-anchor="start" fill="#000" font-size="26.2" font-weight="bold" font-family="'Liberation Sans', sans-serif">3</text>
<text transform="translate(266.9,317.3) scale(1.025,1)" text-anchor="start" fill="#000" font-size="26.2" font-weight="bold" font-family="'Liberation Sans', sans-serif">4</text>
<text transform="translate(266.9,267.3) scale(1.025,1)" text-anchor="start" fill="#000" font-size="26.2" font-weight="bold" font-family="'Liberation Sans', sans-serif">5</text>
<text transform="translate(266.9,217.3) scale(1.025,1)" text-anchor="start" fill="#000" font-size="26.2" font-weight="bold" font-family="'Liberation Sans', sans-serif">6</text>
<text transform="translate(266.9,167.3) scale(1.025,1)" text-anchor="start" fill="#000" font-size="26.2" font-weight="bold" font-family="'Liberation Sans', sans-serif">7</text>
<text transform="translate(266.9,117.3) scale(1.025,1)" text-anchor="start" fill="#000" font-size="26.2" font-weight="bold" font-family="'Liberation Sans', sans-serif">8</text>
<text transform="translate(266.9,67.3) scale(1.025,1)" text-anchor="start" fill="#000" font-size="26.2" font-weight="bold" font-family="'Liberation Sans', sans-serif">9</text>
<text transform="translate(293.1,597.3) scale(1.025,1)" text-anchor="start" fill="#000" font-size="26.2" font-weight="bold" font-family="'Liberation Sans', sans-serif">9</text><text transform="translate(308.4,597.3) scale(1.025,1)" text-anchor="start" fill="#000" font-size="26.2" font-weight="bold" font-family="'Liberation Sans', sans-serif">4</text>
<text transform="translate(349.1,597.3) scale(1.025,1)" text-anchor="start" fill="#000" font-size="26.2" font-weight="bold" font-family="'Liberation Sans', sans-serif">9</text><text transform="translate(364.5,597.3) scale(1.025,1)" text-anchor="start" fill="#000" font-size="26.2" font-weight="bold" font-family="'Liberation Sans', sans-serif">6</text>
<text transform="translate(405.1,597.3) scale(1.025,1)" text-anchor="start" fill="#000" font-size="26.2" font-weight="bold" font-family="'Liberation Sans', sans-serif">9</text><text transform="translate(420.5,597.3) scale(1.025,1)" text-anchor="start" fill="#000" font-size="26.2" font-weight="bold" font-family="'Liberation Sans', sans-serif">8</text>
<text transform="translate(461.2,597.3) scale(1.025,1)" text-anchor="start" fill="#000" font-size="26.2" font-weight="bold" font-family="'Liberation Sans', sans-serif">0</text><text transform="translate(476.5,597.3) scale(1.025,1)" text-anchor="start" fill="#000" font-size="26.2" font-weight="bold" font-family="'Liberation Sans', sans-serif">0</text>
<text transform="translate(517.2,597.3) scale(1.025,1)" text-anchor="start" fill="#000" font-size="26.2" font-weight="bold" font-family="'Liberation Sans', sans-serif">0</text><text transform="translate(532.6,597.3) scale(1.025,1)" text-anchor="start" fill="#000" font-size="26.2" font-weight="bold" font-family="'Liberation Sans', sans-serif">2</text>
<text transform="translate(573.3,597.3) scale(1.025,1)" text-anchor="start" fill="#000" font-size="26.2" font-weight="bold" font-family="'Liberation Sans', sans-serif">0</text><text transform="translate(588.6,597.3) scale(1.025,1)" text-anchor="start" fill="#000" font-size="26.2" font-weight="bold" font-family="'Liberation Sans', sans-serif">4</text>
<text transform="translate(629.3,597.3) scale(1.025,1)" text-anchor="start" fill="#000" font-size="26.2" font-weight="bold" font-family="'Liberation Sans', sans-serif">0</text><text transform="translate(644.7,597.3) scale(1.025,1)" text-anchor="start" fill="#000" font-size="26.2" font-weight="bold" font-family="'Liberation Sans', sans-serif">6</text>
<text transform="translate(685.3,597.3) scale(1.025,1)" text-anchor="start" fill="#000" font-size="26.2" font-weight="bold" font-family="'Liberation Sans', sans-serif">0</text><text transform="translate(700.7,597.3) scale(1.025,1)" text-anchor="start" fill="#000" font-size="26.2" font-weight="bold" font-family="'Liberation Sans', sans-serif">8</text>
<path transform="translate(742.47,597.30) scale(0.01311,-0.01243)" d="M806,0 H518 V1085 Q360,938 146,867 V1128 Q259,1165 391,1268 Q523,1371 572,1509 H806 Z" fill="#000"/><text transform="translate(756.7,597.3) scale(1.025,1)" text-anchor="start" fill="#000" font-size="26.2" font-weight="bold" font-family="'Liberation Sans', sans-serif">0</text>
<path transform="translate(798.51,597.30) scale(0.01311,-0.01243)" d="M806,0 H518 V1085 Q360,938 146,867 V1128 Q259,1165 391,1268 Q523,1371 572,1509 H806 Z" fill="#000"/><text transform="translate(812.8,597.3) scale(1.025,1)" text-anchor="start" fill="#000" font-size="26.2" font-weight="bold" font-family="'Liberation Sans', sans-serif">2</text>
<path transform="translate(854.55,597.30) scale(0.01311,-0.01243)" d="M806,0 H518 V1085 Q360,938 146,867 V1128 Q259,1165 391,1268 Q523,1371 572,1509 H806 Z" fill="#000"/><text transform="translate(868.8,597.3) scale(1.025,1)" text-anchor="start" fill="#000" font-size="26.2" font-weight="bold" font-family="'Liberation Sans', sans-serif">4</text>
<path transform="translate(910.59,597.30) scale(0.01311,-0.01243)" d="M806,0 H518 V1085 Q360,938 146,867 V1128 Q259,1165 391,1268 Q523,1371 572,1509 H806 Z" fill="#000"/><text transform="translate(924.9,597.3) scale(1.025,1)" text-anchor="start" fill="#000" font-size="26.2" font-weight="bold" font-family="'Liberation Sans', sans-serif">6</text>
<path transform="translate(966.63,597.30) scale(0.01311,-0.01243)" d="M806,0 H518 V1085 Q360,938 146,867 V1128 Q259,1165 391,1268 Q523,1371 572,1509 H806 Z" fill="#000"/><text transform="translate(980.9,597.3) scale(1.025,1)" text-anchor="start" fill="#000" font-size="26.2" font-weight="bold" font-family="'Liberation Sans', sans-serif">8</text>
<text transform="translate(1021.6,597.3) scale(1.025,1)" text-anchor="start" fill="#000" font-size="26.2" font-weight="bold" font-family="'Liberation Sans', sans-serif">2</text><text transform="translate(1036.9,597.3) scale(1.025,1)" text-anchor="start" fill="#000" font-size="26.2" font-weight="bold" font-family="'Liberation Sans', sans-serif">0</text>
<text transform="translate(1077.6,597.3) scale(1.025,1)" text-anchor="start" fill="#000" font-size="26.2" font-weight="bold" font-family="'Liberation Sans', sans-serif">2</text><text transform="translate(1093.0,597.3) scale(1.025,1)" text-anchor="start" fill="#000" font-size="26.2" font-weight="bold" font-family="'Liberation Sans', sans-serif">2</text>
<text transform="translate(1133.7,597.3) scale(1.025,1)" text-anchor="start" fill="#000" font-size="26.2" font-weight="bold" font-family="'Liberation Sans', sans-serif">2</text><text transform="translate(1149.0,597.3) scale(1.025,1)" text-anchor="start" fill="#000" font-size="26.2" font-weight="bold" font-family="'Liberation Sans', sans-serif">4</text>
<text transform="translate(1189.7,597.3) scale(1.025,1)" text-anchor="start" fill="#000" font-size="26.2" font-weight="bold" font-family="'Liberation Sans', sans-serif">2</text><text transform="translate(1205.1,597.3) scale(1.025,1)" text-anchor="start" fill="#000" font-size="26.2" font-weight="bold" font-family="'Liberation Sans', sans-serif">6</text>
<text transform="translate(1245.7,597.3) scale(1.025,1)" text-anchor="start" fill="#000" font-size="26.2" font-weight="bold" font-family="'Liberation Sans', sans-serif">2</text><text transform="translate(1261.1,597.3) scale(1.025,1)" text-anchor="start" fill="#000" font-size="26.2" font-weight="bold" font-family="'Liberation Sans', sans-serif">8</text>
<text transform="translate(328.5,90.3) scale(0.920,1)" text-anchor="middle" fill="#000" font-size="27.0" font-weight="bold" font-family="'Liberation Sans', sans-serif">%</text>
<text transform="translate(1157.7,217.8) scale(1.090,1)" text-anchor="middle" fill="#3BA0CE" font-size="26.0" font-weight="bold" font-family="'Liberation Sans', sans-serif">US</text>
<text transform="translate(1084.0,289.2) scale(1.085,1)" text-anchor="middle" fill="#FFC000" font-size="26.0" font-weight="bold" font-family="'Liberation Sans', sans-serif">UK</text>
<text transform="translate(1039.7,335.4) scale(1.095,1)" text-anchor="middle" fill="#70AD47" font-size="26.0" font-weight="bold" font-family="'Liberation Sans', sans-serif">Australia</text>
<text transform="translate(867.7,446.2) scale(1.113,1)" text-anchor="middle" fill="#FF0000" font-size="26.0" font-weight="bold" font-family="'Liberation Sans', sans-serif">Canada</text>
<text transform="translate(1197.0,451.7) scale(1.110,1)" text-anchor="middle" fill="#7030A0" font-size="26.0" font-weight="bold" font-family="'Liberation Sans', sans-serif">Europe</text>
</g>
</svg>
</body></html>
